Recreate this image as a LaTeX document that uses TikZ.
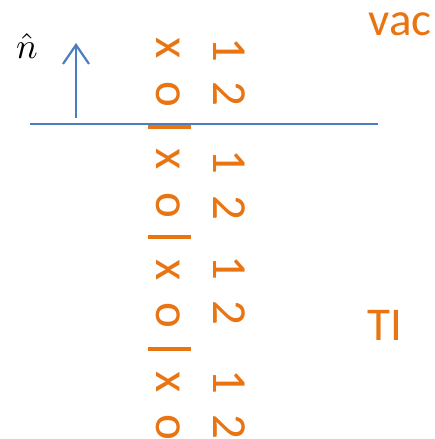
\documentclass[tikz,border=0pt]{standalone}
\usepackage{fontspec}
\setmainfont{Carlito}
\usetikzlibrary{arrows.meta}
\definecolor{tor}{RGB}{232,116,18}
\definecolor{tbl}{RGB}{74,126,193}
\tikzset{
  glyph/.style={text=tor,inner sep=0pt,rotate=-90,font=\fontsize{49}{50}\selectfont},
  bigtext/.style={text=tor,inner sep=0pt,font=\fontsize{47}{48}\selectfont},
  sepbar/.style={draw=tor,line width=4pt},
  axis/.style={draw=tbl,line width=2.2pt},
}
\begin{document}
\begin{tikzpicture}[x=1pt,y=-1pt]
\useasboundingbox (0,0) rectangle (435,439);
% interface line
\coordinate (L) at (30,124);
\coordinate (R) at (378,124);
\draw[axis] (L) -- (R);
% normal arrow
\coordinate (A0) at (76,118);
\coordinate (A1) at (76,43);
\draw[axis,-{Straight Barb[length=19pt,width=26pt,line width=2.2pt]}] (A0) -- (A1);
\node[inner sep=0pt,scale=3.6] (nhat) at (27,46) {$\hat{n}$};
% labels
\node[bigtext] (vac) at (400,24) {vac};
\node[bigtext] (TI) at (385,325) {TI};
% column of x / o
\node[glyph] (x1) at (168.5,48) {x};
\node[glyph] (o1) at (168.5,94) {o};
\node[glyph] (x2) at (168.5,159) {x};
\node[glyph] (o2) at (168.5,205) {o};
\node[glyph] (x3) at (168.5,270) {x};
\node[glyph] (o3) at (168.5,315) {o};
\node[glyph] (x4) at (168.5,382) {x};
\node[glyph] (o4) at (168.5,427) {o};
% column of digits
\node[glyph] (d1) at (229,50) {1};
\node[glyph] (d2) at (229,94) {2};
\node[glyph] (d3) at (229,162) {1};
\node[glyph] (d4) at (229,208) {2};
\node[glyph] (d5) at (229,268) {1};
\node[glyph] (d6) at (229,313) {2};
\node[glyph] (d7) at (229,382) {1};
\node[glyph] (d8) at (229,427) {2};
% separators
\coordinate (b1l) at (148,126.5); \coordinate (b1r) at (191,126.5);
\coordinate (b2l) at (148,237); \coordinate (b2r) at (191,237);
\coordinate (b3l) at (148,349); \coordinate (b3r) at (191,349);
\draw[sepbar] (b1l) -- (b1r);
\draw[sepbar] (b2l) -- (b2r);
\draw[sepbar] (b3l) -- (b3r);
\end{tikzpicture}
\end{document}
